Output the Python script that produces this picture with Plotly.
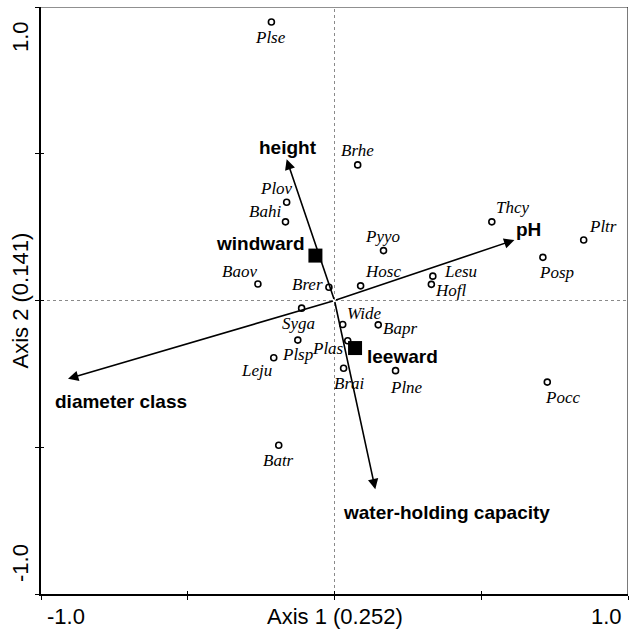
import plotly.graph_objects as go

# ---- data ----
species = ["Plse", "Brhe", "Plov", "Bahi", "Thcy", "Pltr", "Pyyo", "Posp", "Lesu", "Hofl",
           "Hosc", "Brer", "Baov", "Syga", "Plsp", "Leju", "Batr", "Wide", "Bapr", "Plas",
           "Brai", "Plne", "Pocc"]
species_x = [-0.215, 0.079, -0.163, -0.167, 0.536, 0.849, 0.167, 0.710, 0.335, 0.330,
             0.089, -0.019, -0.261, -0.112, -0.125, -0.207, -0.190, 0.028, 0.149, 0.045,
             0.031, 0.208, 0.725]
species_y = [0.949, 0.462, 0.335, 0.268, 0.268, 0.206, 0.170, 0.147, 0.083, 0.055,
             0.050, 0.045, 0.056, -0.026, -0.135, -0.195, -0.493, -0.082, -0.083, -0.137,
             -0.231, -0.239, -0.278]

sites = ["windward", "leeward"]
sites_x = [-0.065, 0.070]
sites_y = [0.153, -0.162]

variables = ["height", "pH", "diameter class", "water-holding capacity"]
variables_x = [-0.163, 0.613, -0.908, 0.139]
variables_y = [0.481, 0.206, -0.267, -0.643]

x_tick_labels = ["-1.0", "1.0"]
y_tick_labels = ["1.0", "-1.0"]
x_title = "Axis 1 (0.252)"
y_title = "Axis 2 (0.141)"

# ---- label offsets (pixels: dx right, dy up) ----
species_offsets = {
    "Plse": (-1, -16), "Brhe": (0, 14), "Plov": (-10, 14), "Bahi": (-20, 10),
    "Thcy": (21, 14), "Pltr": (19, 14), "Pyyo": (-1, 14), "Posp": (14, -15),
    "Lesu": (28, 5), "Hofl": (20, -6), "Hosc": (22, 14), "Brer": (-21, 3),
    "Baov": (-18, 13), "Syga": (-3, -15), "Plsp": (0, -14), "Leju": (-17, -13),
    "Batr": (0, -15), "Wide": (21, 11), "Bapr": (22, -4), "Plas": (-20, -8),
    "Brai": (6, -15), "Plne": (11, -17), "Pocc": (15, -15),
}
site_offsets = {"windward": (-55, 12), "leeward": (47, -8)}
variable_offsets = {"height": (1, 12), "pH": (14, 11),
                    "diameter class": (53, -23), "water-holding capacity": (71, -23)}

SANS = "Liberation Sans, Arial, sans-serif"
SERIF = "Liberation Serif, Times New Roman, serif"

fig = go.Figure()

# dotted zero lines
fig.add_shape(type="line", x0=0, x1=0, y0=-1, y1=1, xref="x", yref="y",
              line=dict(color="#8a8a8a", width=1, dash="dot"), layer="below")
fig.add_shape(type="line", x0=-1, x1=1, y0=0, y1=0, xref="x", yref="y",
              line=dict(color="#8a8a8a", width=1, dash="dot"), layer="below")
# thin top/right frame
fig.add_shape(type="line", x0=-1, x1=1, y0=1, y1=1, xref="x", yref="y",
              line=dict(color="#222222", width=1.2))
fig.add_shape(type="line", x0=1, x1=1, y0=-1, y1=1, xref="x", yref="y",
              line=dict(color="#222222", width=1.2))

# species points
fig.add_trace(go.Scatter(
    x=species_x, y=species_y, mode="markers",
    marker=dict(symbol="circle-open", size=6, color="black", line=dict(width=1.6, color="black")),
    hoverinfo="skip", showlegend=False))

# site squares
fig.add_trace(go.Scatter(
    x=sites_x, y=sites_y, mode="markers",
    marker=dict(symbol="square", size=14, color="black"),
    hoverinfo="skip", showlegend=False))

annotations = []
# arrows
for name, vx, vy in zip(variables, variables_x, variables_y):
    annotations.append(dict(x=vx, y=vy, ax=0, ay=0, xref="x", yref="y", axref="x", ayref="y",
                            text="", showarrow=True, arrowhead=2, arrowsize=1.3,
                            arrowwidth=1.6, arrowcolor="black"))
    dx, dy = variable_offsets[name]
    annotations.append(dict(x=vx, y=vy, xref="x", yref="y", text=name, showarrow=False,
                            xshift=dx, yshift=dy, xanchor="center", yanchor="middle",
                            font=dict(family=SANS, size=19, color="black", weight="bold")))

for name, sx, sy in zip(sites, sites_x, sites_y):
    dx, dy = site_offsets[name]
    annotations.append(dict(x=sx, y=sy, xref="x", yref="y", text=name, showarrow=False,
                            xshift=dx, yshift=dy, xanchor="center", yanchor="middle",
                            font=dict(family=SANS, size=19, color="black", weight="bold")))

for name, sx, sy in zip(species, species_x, species_y):
    dx, dy = species_offsets[name]
    annotations.append(dict(x=sx, y=sy, xref="x", yref="y", text=name, showarrow=False,
                            xshift=dx, yshift=dy, xanchor="center", yanchor="middle",
                            font=dict(family=SERIF, size=17, color="black", style="italic")))

# axis tick labels and titles
tick_font = dict(family=SANS, size=22, color="black")
annotations.append(dict(x=-1, y=0, xref="x", yref="paper", text=x_tick_labels[0], showarrow=False,
                        xanchor="left", yanchor="middle", xshift=4, yshift=-22, font=tick_font))
annotations.append(dict(x=1, y=0, xref="x", yref="paper", text=x_tick_labels[1], showarrow=False,
                        xanchor="right", yanchor="middle", xshift=-4, yshift=-22, font=tick_font))
annotations.append(dict(x=0, y=0, xref="x", yref="paper", text=x_title, showarrow=False,
                        xanchor="center", yanchor="middle", yshift=-22, font=tick_font))
annotations.append(dict(x=0, y=1, xref="paper", yref="y", text=y_tick_labels[0], showarrow=False,
                        textangle=-90, xanchor="center", yanchor="middle", xshift=-21, yshift=-30,
                        font=tick_font))
annotations.append(dict(x=0, y=-1, xref="paper", yref="y", text=y_tick_labels[1], showarrow=False,
                        textangle=-90, xanchor="center", yanchor="middle", xshift=-21, yshift=31,
                        font=tick_font))
annotations.append(dict(x=0, y=0, xref="paper", yref="y", text=y_title, showarrow=False,
                        textangle=-90, xanchor="center", yanchor="middle", xshift=-21,
                        font=tick_font))

fig.update_layout(
    width=629, height=633,
    margin=dict(l=41, r=1, t=7, b=39),
    paper_bgcolor="white", plot_bgcolor="white",
    annotations=annotations,
    xaxis=dict(range=[-1, 1], tickvals=[-1, -0.5, 0, 0.5, 1], showticklabels=False,
               ticks="outside", ticklen=4, tickwidth=1.2, tickcolor="black",
               showline=True, linecolor="black", linewidth=2, showgrid=False, zeroline=False,
               fixedrange=True),
    yaxis=dict(range=[-1, 1], tickvals=[-1, -0.5, 0, 0.5, 1], showticklabels=False,
               ticks="outside", ticklen=4, tickwidth=1.2, tickcolor="black",
               showline=True, linecolor="black", linewidth=2, showgrid=False, zeroline=False,
               fixedrange=True),
    xaxis2=dict(overlaying="x", matches="x", range=[-1, 1], tickvals=[-1, -0.5, 0, 0.5, 1],
                showticklabels=False, ticks="inside", ticklen=3, tickwidth=1.2,
                tickcolor="black", showgrid=False, zeroline=False, side="bottom",
                anchor="y", fixedrange=True),
    yaxis2=dict(overlaying="y", matches="y", range=[-1, 1], tickvals=[-1, -0.5, 0, 0.5, 1],
                showticklabels=False, ticks="inside", ticklen=3, tickwidth=1.2,
                tickcolor="black", showgrid=False, zeroline=False, side="left",
                anchor="x", fixedrange=True),
)
# invisible trace so the overlay axes render
fig.add_trace(go.Scatter(x=[None], y=[None], xaxis="x2", yaxis="y2", showlegend=False,
                         hoverinfo="skip"))

fig.write_html("out.html", config={"displayModeBar": False},
               post_script="document.body.style.margin='0';document.body.style.overflow='hidden';")
